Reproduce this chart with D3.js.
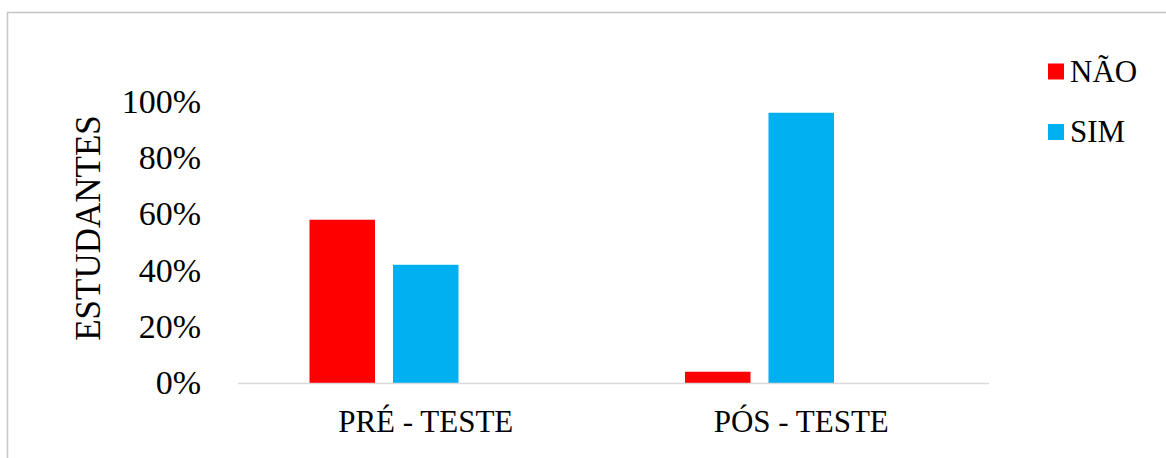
<!DOCTYPE html>
<html>
<head>
<meta charset="utf-8">
<script src="https://cdn.jsdelivr.net/npm/d3@7"></script>
<style>
  html, body { margin: 0; padding: 0; background: #ffffff; }
  svg { display: block; }
  svg text { font-family: "Liberation Serif", "DejaVu Serif", serif !important; fill: #000; }
</style>
</head>
<body>
<svg id="chart" width="1166" height="458"></svg>
<script>
// Categories, series and values (share of students)
const categories = ["PRÉ - TESTE", "PÓS - TESTE"];
const seriesNames = ["NÃO", "SIM"];
const seriesColors = ["#ff0000", "#00b0f0"];
const naoValues = [0.58, 0.04];
const simValues = [0.42, 0.96];
const yTicks = [0, 0.2, 0.4, 0.6, 0.8, 1.0];
const yTitle = "ESTUDANTES";

const seriesValues = [naoValues, simValues];
const serif = "'Liberation Serif', 'DejaVu Serif', serif";

const svg = d3.select("#chart");
const W = 1166, H = 458;

// Outer chart frame (top and left edges visible)
svg.append("path")
  .attr("d", `M7.5,${H} L7.5,12.5 L${W},12.5`)
  .attr("fill", "none")
  .attr("stroke", "#c6c6c6")
  .attr("stroke-width", 1.5);

const plot = { left: 238, right: 989, top: 101.5, bottom: 383 };

const x0 = d3.scaleBand()
  .domain(categories)
  .range([plot.left, plot.right])
  .paddingInner(0.3808)
  .paddingOuter(0.1904);

// Three bar slots per group; two are used by the series
const x1 = d3.scaleBand()
  .domain([0, 1, 2])
  .range([0, x0.bandwidth()])
  .paddingInner(0.2156);

const y = d3.scaleLinear().domain([0, 1]).range([plot.bottom, plot.top]);

// Bars
const barData = [];
categories.forEach((c, ci) => {
  seriesValues.forEach((vals, si) => {
    barData.push({ cat: c, s: si, v: vals[ci] });
  });
});

svg.append("g").selectAll("rect")
  .data(barData)
  .join("rect")
  .attr("x", d => x0(d.cat) + x1(d.s))
  .attr("width", x1.bandwidth())
  .attr("y", d => y(d.v))
  .attr("height", d => y(0) - y(d.v))
  .attr("fill", d => seriesColors[d.s]);

// Baseline
svg.append("line")
  .attr("x1", plot.left).attr("x2", plot.right)
  .attr("y1", y(0) + 0.5).attr("y2", y(0) + 0.5)
  .attr("stroke", "#d9d9d9")
  .attr("stroke-width", 1.6);

// Y axis labels
const yAxis = d3.axisLeft(y)
  .tickValues(yTicks)
  .tickFormat(d3.format(".0%"))
  .tickSize(0)
  .tickPadding(0);

const gy = svg.append("g")
  .attr("transform", `translate(201,0)`)
  .call(yAxis)
  .attr("font-family", serif)
  .attr("font-size", 34);
gy.select(".domain").remove();
gy.selectAll("text")
  .style("font-family", serif)
  .style("font-size", "34px")
  .attr("fill", "#000")
  .attr("dy", "0.32em");

// X axis labels
const xAxis = d3.axisBottom(x0).tickSize(0).tickPadding(0);
const gx = svg.append("g")
  .attr("transform", `translate(0,${plot.bottom})`)
  .call(xAxis)
  .attr("font-family", serif)
  .attr("font-size", 31);
gx.select(".domain").remove();
gx.selectAll("text")
  .style("font-family", serif)
  .style("font-size", "31px")
  .attr("fill", "#000")
  .attr("dy", null)
  .attr("y", 48.5);

// Y axis title
svg.append("text")
  .attr("transform", "translate(100,228) rotate(-90)")
  .attr("text-anchor", "middle")
  .style("font-family", serif)
  .style("font-size", "35px")
  .text(yTitle);

// Legend
const legend = svg.append("g").attr("transform", "translate(1048,63.5)");
const li = legend.selectAll("g")
  .data(seriesNames)
  .join("g")
  .attr("transform", (d, i) => `translate(0,${i * 60.5})`);
li.append("rect")
  .attr("width", 16).attr("height", 16)
  .attr("fill", (d, i) => seriesColors[i]);
li.append("text")
  .attr("x", 22).attr("y", 18.2)
  .style("font-family", serif)
  .style("font-size", "31px")
  .text(d => d);
</script>
</body>
</html>
